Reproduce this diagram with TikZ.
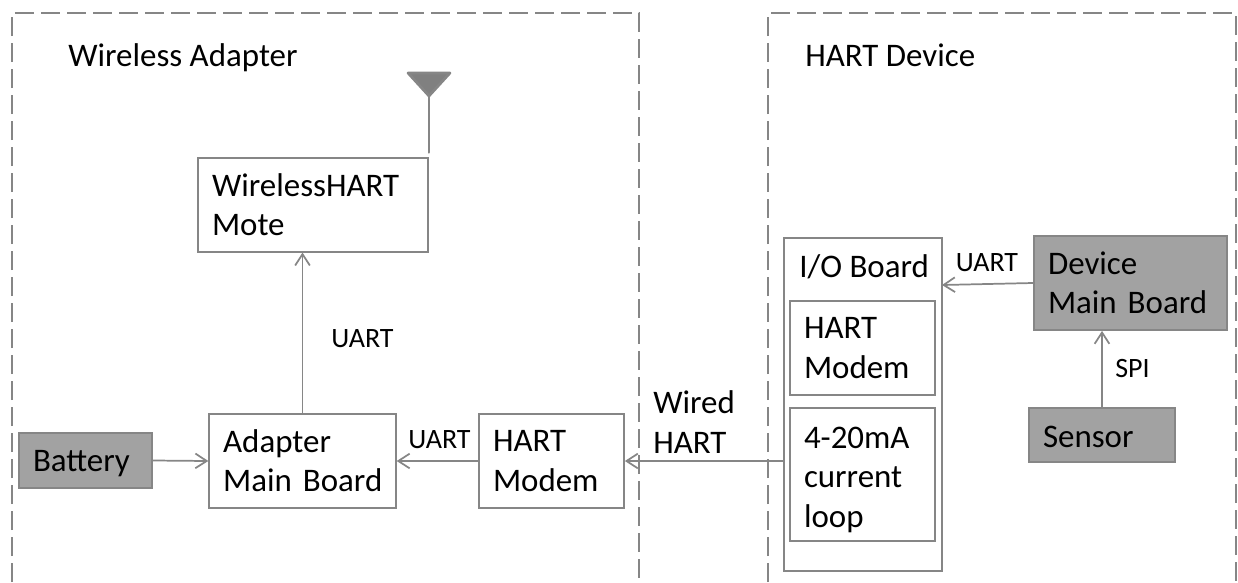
\documentclass[tikz,border=0pt]{standalone}
\usepackage{fontspec}
\setmainfont{Carlito}
\usetikzlibrary{arrows.meta}
\definecolor{linegray}{HTML}{868686}
\definecolor{boxgray}{HTML}{A2A2A2}
\tikzset{
  blockbox/.style 2 args={draw=linegray,line width=1.3pt,inner xsep=10.5pt,inner ysep=0pt,text width=#1pt-21pt,minimum height=#2pt,align=left,font=\fontsize{24.7}{29.5}\selectfont},
  darkbox/.style={fill=boxgray},
  biglabel/.style={inner sep=0pt,align=left,anchor=west,font=\fontsize{24.7}{29.5}\selectfont},
  smalllabel/.style={inner sep=0pt,font=\fontsize{21}{25}\selectfont},
  conn/.style={draw=linegray,line width=1.3pt,-{Straight Barb[length=8.5pt,width=11pt]}},
  region/.style={draw=linegray,line width=2pt,dash pattern=on 14.5pt off 5pt}
}
\begin{document}
\begin{tikzpicture}[x=0.75pt,y=-0.75pt]
\useasboundingbox (0,0) rectangle (1238,582);
\draw[region] (12,582)--(12,13)--(639,13)--(639,582);
\draw[region] (768,582)--(768,13)--(1236,13)--(1236,582);
\node[biglabel,anchor=base west] (adaptertitle) at (68,66) {Wireless Adapter};
\node[biglabel,anchor=base west] (devicetitle) at (805,66) {HART Device};
\node[blockbox={172.5}{70}] (mote) at (313,205) {WirelessHART\\Mote};
\node[blockbox={140}{70.5}] (adapter) at (302.5,461) {Adapter\\Main~Board};
\node[blockbox={108.75}{70.5}] (modem) at (551.5,461) {HART\\Modem};
\node[blockbox={99.75}{41},darkbox] (battery) at (85.5,460.5) {\rule{0pt}{20pt}Battery};
\node[blockbox={118.5}{249.75}] (ioboard) at (863,404.5) {};
\node[biglabel,anchor=base west] (iotitle) at (799,277) {I/O Board};
\node[blockbox={108.75}{70.5}] (iomodem) at (862.5,348) {HART\\Modem};
\node[blockbox={108.75}{99.75}] (loop) at (862.5,474.5) {\rule{0pt}{24pt}4-20mA\\current\\loop};
\node[blockbox={144.75}{70.5},darkbox] (devboard) at (1130.5,283) {Device\\Main~Board};
\node[blockbox={109.5}{40.5},darkbox] (sensor) at (1102,435) {\rule{0pt}{19pt}Sensor};
\node[smalllabel] (uartup) at (362.5,339) {UART};
\node[smalllabel] (uartleft) at (439.5,440) {UART};
\node[smalllabel] (uartright) at (987,263) {UART};
\node[smalllabel] (spi) at (1132.5,369) {SPI};
\node[biglabel] (wired) at (653,422) {Wired\\HART};
% antenna
\coordinate (antl) at (408,73);
\coordinate (antr) at (450,73);
\coordinate (antt) at (429,96);
\coordinate (ioin) at (942,285);
\draw[draw=linegray,line width=2pt,fill=gray,line join=round] (antl)--(antr)--(antt)--cycle;
\draw[draw=linegray,line width=1.3pt,shorten >=3pt] (antt)--(mote.north east);
\draw[conn] (adapter.north)--(adapter.north |- mote.south);
\draw[conn] (battery.east)--(adapter.west);
\draw[conn] (modem.west)--(adapter.east);
\draw[conn] (ioboard.west |- modem.east)--(modem.east);
\draw[conn] (devboard.west)--(ioin);
\draw[conn] (sensor.north)--(sensor.north |- devboard.south);
\end{tikzpicture}
\end{document}
